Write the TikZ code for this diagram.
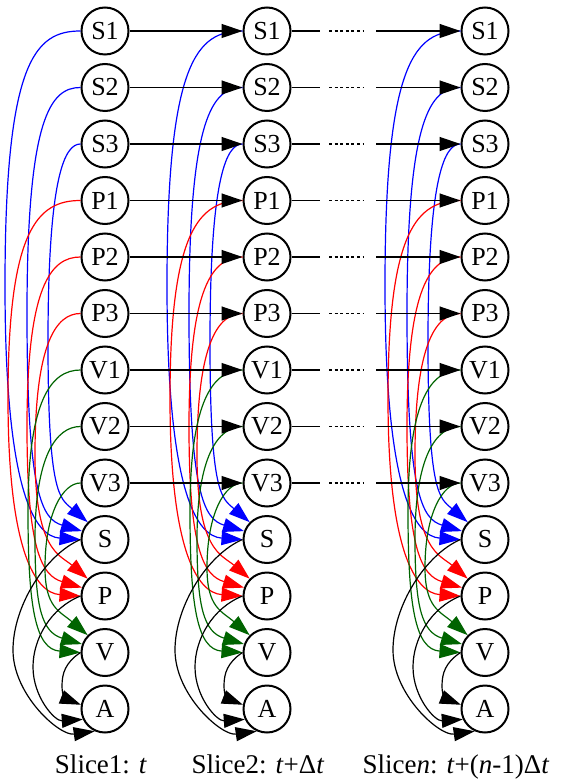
\documentclass[tikz,border=0pt]{standalone}
\usepackage{fontspec}
\setmainfont{Liberation Serif}
\usepackage{tikz}
\usetikzlibrary{arrows.meta,calc}

\definecolor{dkgreen}{RGB}{0,100,0}

\tikzset{
  state/.style={circle, draw, line width=2pt, minimum size=47pt, inner sep=0pt,
    font=\fontsize{26}{28}\selectfont},
  tip/.style={-{Triangle[length=21pt,width=14pt]}},
  flow/.style={line width=1.3pt, tip},
  plain/.style={line width=1.3pt},
  dots/.style={line width=1.3pt, dash pattern=on 3pt off 2.6pt},
  cedge/.style={line width=1.2pt, tip},
  slice/.style={anchor=base, font=\fontsize{27}{30}\selectfont}
}

\begin{document}
\begin{tikzpicture}[x=1pt, y=-1pt]
\useasboundingbox (0,0) rectangle (560,783);

%draw nodes, one column per slice
\foreach \c/\x in {1/105, 2/267, 3/485}{
  \begin{scope}[xshift=\x pt]
    \foreach \n [count=\i] in {S1,S2,S3,P1,P2,P3,V1,V2,V3,S,P,V,A}
      \node[state] (\n-\c) at (0,{31+56.5*(\i-1)}) {\n};

    %draw coloured edges to S, P and V
    \foreach \src/\dst/\i/\j/\lx/\ang/\dx/\dy/\col in {
        S1/S/1/10/-100/180/-45/-3/blue, S2/S/2/10/-78/160/-40/-12/blue, S3/S/3/10/-57/135/-28/-24/blue,
        P1/P/4/11/-97/180/-45/-3/red,   P2/P/5/11/-78/160/-40/-12/red,  P3/P/6/11/-70/135/-28/-24/red,
        V1/V/7/12/-77/180/-45/-3/dkgreen, V2/V/8/12/-70/160/-40/-12/dkgreen, V3/V/9/12/-60/135/-28/-24/dkgreen}{
      \pgfmathsetmacro\ys{31+56.5*(\i-1)}
      \pgfmathsetmacro\yd{31+56.5*(\j-1)}
      \pgfmathsetmacro\ym{(\ys+\yd)/2}
      \draw[cedge, \col] (\src-\c.west) .. controls ({0.7*(\lx)},\ys) and (\lx,\ys+30) .. (\lx,\ym)
        .. controls (\lx,\yd-45) and +(\dx,\dy) .. (\dst-\c.\ang);
    }

    %draw black edges to A
    \foreach \src/\cx/\cy/\lx/\ym/\ka/\kb/\ang/\dx/\dy in {
        S/-35/15/-92/650/44/45/245/-35/5,
        P/-30/12/-72/667/28/30/205/-28/2,
        V/-15/10/-43/686/13/10/170/-15/-6}
      \draw[cedge] (\src-\c.180) .. controls +(\cx,\cy) and (\lx,\ym-\ka) .. (\lx,\ym)
        .. controls (\lx,\ym+\kb) and +(\dx,\dy) .. (A-\c.\ang);
  \end{scope}
}

%draw edges between slices
\foreach \n [count=\i] in {S1,S2,S3,P1,P2,P3,V1,V2,V3}{
  \pgfmathsetmacro\y{31+56.5*(\i-1)}
  \coordinate (\n-m1) at (320,\y);
  \coordinate (\n-m2) at (329,\y);
  \coordinate (\n-m3) at (363,\y);
  \coordinate (\n-m4) at (376,\y);
  \draw[flow] (\n-1) -- (\n-2);
  \draw[plain] (\n-2) -- (\n-m1);
  \draw[dots] (\n-m2) -- (\n-m3);
  \draw[flow] (\n-m4) -- (\n-3);
}

%draw slice labels
\node[slice] (lab1) at (101,773) {Slice1: \textit{t}};
\node[slice] (lab2) at (258,773) {Slice2: \textit{t}+Δ\textit{t}};
\node[slice] (lab3) at (456,773) {Slice\textit{n}: \textit{t}+(\textit{n}-1)Δ\textit{t}};
\end{tikzpicture}
\end{document}
